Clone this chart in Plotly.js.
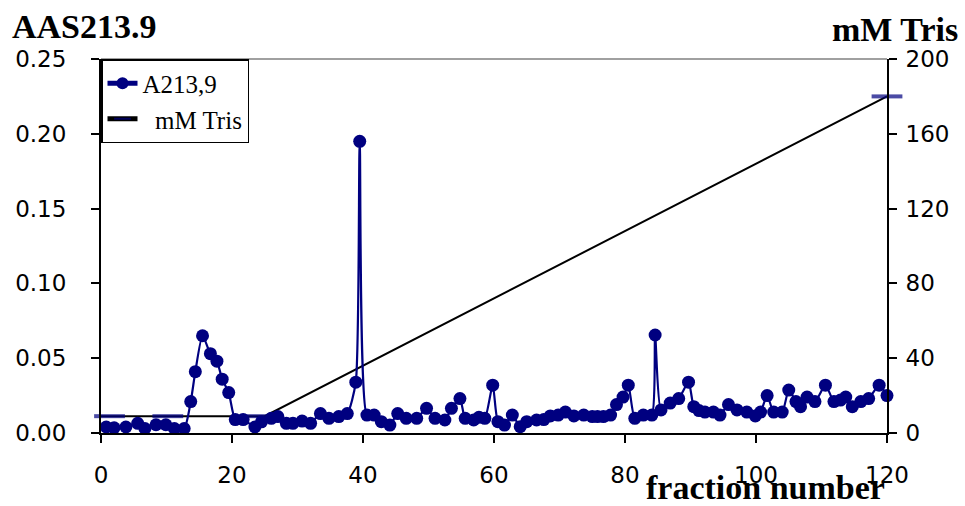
<!DOCTYPE html>
<html><head><meta charset="utf-8">
<script src="https://cdn.plot.ly/plotly-3.0.1.min.js"></script>
<style>html,body{margin:0;padding:0;background:#fff}#chart{width:965px;height:506px}</style>
</head><body><div id="chart"></div>
<script>
// A213,9 absorbance series
const fractionA = [0.8, 2.0, 3.8, 5.6, 6.7, 8.4, 9.9, 11.2, 12.7, 13.7, 14.4, 15.5, 16.7, 17.7, 18.5, 19.5, 20.5, 21.7, 23.5, 24.5,
  26.0, 27.0, 28.3, 29.3, 30.7, 32.0, 33.5, 34.8, 36.3, 37.6, 38.9, 39.5, 40.6, 41.7, 42.8, 44.1, 45.3, 46.6, 48.2, 49.7,
  51.0, 52.5, 53.5, 54.8, 55.6, 56.9, 57.7, 58.6, 59.8, 60.6, 61.6, 62.8, 64.0, 65.0, 66.5, 67.6, 68.6, 69.8, 70.9, 72.2,
  73.7, 75.0, 75.8, 76.7, 77.8, 78.7, 79.7, 80.5, 81.5, 82.8, 84.1, 84.6, 85.5, 86.9, 88.2, 89.7, 90.5, 91.3, 92.2, 93.5,
  94.5, 95.8, 97.1, 98.6, 99.9, 100.7, 101.7, 102.7, 104.0, 105.0, 106.1, 106.8, 107.8, 109.0, 110.6, 111.9, 112.9, 113.7, 114.7, 116.0,
  117.2, 118.8, 120.0];
const absorbance = [0.004, 0.0035, 0.004, 0.0065, 0.003, 0.0055, 0.0055, 0.003, 0.003, 0.021, 0.041, 0.065, 0.053, 0.048, 0.036, 0.027, 0.009, 0.009, 0.004, 0.0075,
  0.0098, 0.011, 0.0065, 0.0065, 0.008, 0.0065, 0.013, 0.0098, 0.011, 0.013, 0.034, 0.195, 0.012, 0.012, 0.0076, 0.0053, 0.013, 0.0098, 0.0098, 0.0165,
  0.0098, 0.0087, 0.0165, 0.023, 0.0098, 0.0087, 0.0105, 0.0098, 0.032, 0.0076, 0.0053, 0.012, 0.0042, 0.0076, 0.0087, 0.009, 0.0114, 0.012, 0.014, 0.0114,
  0.012, 0.011, 0.011, 0.011, 0.012, 0.019, 0.024, 0.032, 0.0098, 0.012, 0.012, 0.0655, 0.0154, 0.020, 0.023, 0.034, 0.0176, 0.015, 0.014, 0.014,
  0.012, 0.019, 0.0154, 0.014, 0.0114, 0.014, 0.025, 0.014, 0.014, 0.0287, 0.021, 0.0176, 0.024, 0.021, 0.032, 0.021, 0.022, 0.024, 0.0176, 0.021,
  0.023, 0.032, 0.025];

// mM Tris gradient series
const fractionTris = [0, 1.3, 10.2, 23.5, 25, 120];
const trisMM = [9, 9, 9, 9, 9, 180];
const trisMarkerSize = [0, 22, 22, 22, 0, 22];

// axis ticks
const xTicks = [0, 20, 40, 60, 80, 100, 120];
const yTicks = [0, 0.05, 0.10, 0.15, 0.20, 0.25];
const yTickText = ['0.00', '0.05', '0.10', '0.15', '0.20', '0.25'];
const y2Ticks = [0, 40, 80, 120, 160, 200];

const navy = '#000080';
const tickFont = {family: 'DejaVu Sans', size: 23, color: '#000'};
const titleFont = {family: 'Liberation Serif', size: 34, color: '#000'};

const traces = [
  {
    x: fractionTris, y: trisMM, name: '\u00a0\u00a0mM Tris', type: 'scatter', mode: 'lines+markers',
    yaxis: 'y', legendrank: 2, cliponaxis: false,
    line: {color: '#000', width: 2},
    marker: {symbol: 'line-ew', size: trisMarkerSize, color: navy, line: {color: navy, width: 4}}
  },
  {
    x: fractionA, y: absorbance, name: 'A213,9', type: 'scatter', mode: 'lines+markers',
    yaxis: 'y2', legendrank: 1, cliponaxis: false,
    line: {color: navy, width: 2.2, shape: 'spline', smoothing: 0.6},
    marker: {symbol: 'circle', size: 13, color: navy}
  }
];

const axisCommon = {
  showline: true, linecolor: '#000', linewidth: 2, ticks: 'outside', ticklen: 8, tickwidth: 2,
  tickcolor: '#000', showgrid: false, zeroline: false, tickfont: tickFont
};

const layout = {
  width: 965, height: 506,
  margin: {l: 101, r: 78, t: 59, b: 73},
  paper_bgcolor: '#fff', plot_bgcolor: '#fff',
  showlegend: true,
  xaxis: Object.assign({}, axisCommon, {range: [0, 120], tickvals: xTicks, ticklabelstandoff: 12}),
  yaxis: Object.assign({}, axisCommon, {side: 'right', range: [0, 200], tickvals: y2Ticks, ticklabelstandoff: 4}),
  yaxis2: Object.assign({}, axisCommon, {side: 'left', overlaying: 'y', range: [0, 0.25], tickvals: yTicks, ticktext: yTickText, ticklabelstandoff: 20}),
  legend: {
    x: 0, y: 1, xanchor: 'left', yanchor: 'top', bgcolor: '#fff', bordercolor: '#000', borderwidth: 1.5,
    font: {family: 'Liberation Serif', size: 25, color: '#000'}, tracegroupgap: 20, itemsizing: 'constant',
    traceorder: 'normal'
  },
  shapes: [
    {type: 'line', xref: 'paper', yref: 'paper', x0: 0, x1: 1, y0: 1, y1: 1, layer: 'below', line: {color: '#808080', width: 1.5}}
  ],
  annotations: [
    {text: '<b>AAS213.9</b>', xref: 'paper', yref: 'paper', x: -0.1158, y: 1.0856, xanchor: 'left', yanchor: 'middle', showarrow: false, font: titleFont},
    {text: '<b>mM Tris</b>', xref: 'paper', yref: 'paper', x: 1.0929, y: 1.08, xanchor: 'right', yanchor: 'middle', showarrow: false, font: titleFont},
    {text: '<b>fraction number</b>', xref: 'paper', yref: 'paper', x: 0.8448, y: -0.145, xanchor: 'center', yanchor: 'middle', showarrow: false, font: titleFont}
  ]
};

Plotly.newPlot('chart', traces, layout, {displayModeBar: false, staticPlot: true});
</script>
</body></html>
